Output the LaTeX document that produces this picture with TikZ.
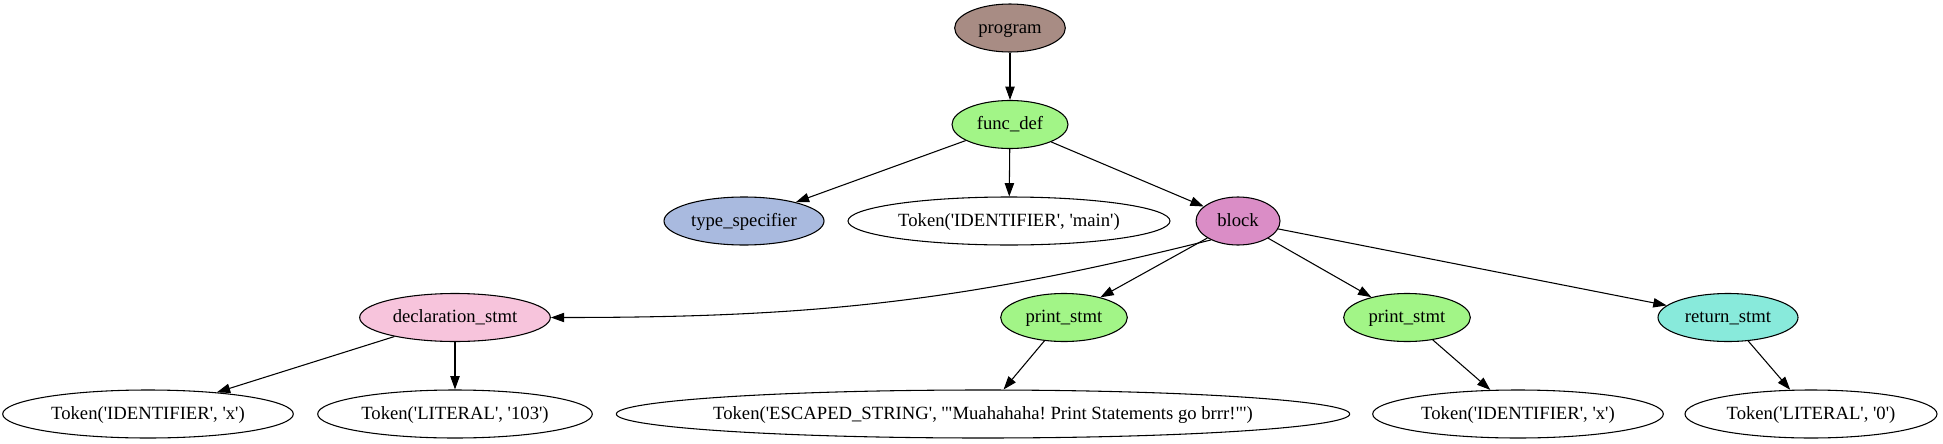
\documentclass[tikz,border=0pt]{standalone}
\usepackage{fontspec}
\setmainfont{Liberation Serif}
\newfontfamily\gvfont{Liberation Serif}[Ligatures=TeXOff]
\usetikzlibrary{shapes.geometric}
\usetikzlibrary{arrows.meta}
\definecolor{progcol}{HTML}{A88C84}
\definecolor{greencol}{HTML}{A2F587}
\definecolor{typecol}{HTML}{A9BADF}
\definecolor{blockcol}{HTML}{DA8DC6}
\definecolor{declcol}{HTML}{F7C4DC}
\definecolor{retcol}{HTML}{88EADB}
\frenchspacing

\begin{document}
\begin{tikzpicture}[x=0.75pt, y=-0.75pt,
    every node/.style={shape=ellipse, draw=black, line width=0.8pt, inner xsep=-8pt, inner ysep=0pt,
        minimum height=36pt, text height=10.5pt, text depth=2.5pt,
        font=\gvfont\fontsize{14pt}{16pt}\selectfont},
    every edge/.style={draw, line width=0.8pt, -{Triangle[length=10pt,width=7pt]}}]
    \useasboundingbox (0,0) rectangle (1943,443);

    \node[fill=progcol, minimum width=83pt] (program) at (1010,28) {program};
    \node[fill=greencol, minimum width=87pt] (funcdef) at (1010,124.5) {func\_def};

    \node[fill=typecol, minimum width=120pt] (typespec) at (744,221) {type\_specifier};
    \node[minimum width=241.5pt] (tokmain) at (1009,221) {Token('IDENTIFIER', 'main')};
    \node[fill=blockcol, minimum width=63pt] (block) at (1238,221) {block};

    \node[fill=declcol, minimum width=143pt] (decl) at (455,317.5) {declaration\_stmt};
    \node[fill=greencol, minimum width=95pt] (print1) at (1064,317.5) {print\_stmt};
    \node[fill=greencol, minimum width=95pt] (print2) at (1407,317.5) {print\_stmt};
    \node[fill=retcol, minimum width=105pt] (ret) at (1728,317.5) {return\_stmt};

    \node[minimum width=218pt] (tokx1) at (148,414) {Token('IDENTIFIER', 'x')};
    \node[minimum width=206pt] (toklit) at (455,414) {Token('LITERAL', '103')};
    \node[minimum width=550pt] (tokstr) at (983,414) {Token('ESCAPED\_STRING', '"Muahahaha! Print Statements go brrr!"')};
    \node[minimum width=218pt] (tokx2) at (1518,414) {Token('IDENTIFIER', 'x')};
    \node[minimum width=189pt] (tokzero) at (1811,414) {Token('LITERAL', '0')};

    \path
    (program) edge (funcdef)
    (funcdef) edge (typespec)
    (funcdef) edge (tokmain)
    (funcdef) edge (block)
    (block.215) edge[out=194, in=0] (decl.east)
    (block) edge (print1)
    (block) edge (print2)
    (block) edge (ret)
    (decl) edge (tokx1)
    (decl) edge (toklit)
    (print1) edge (tokstr)
    (print2) edge (tokx2)
    (ret) edge (tokzero);
\end{tikzpicture}
\end{document}
